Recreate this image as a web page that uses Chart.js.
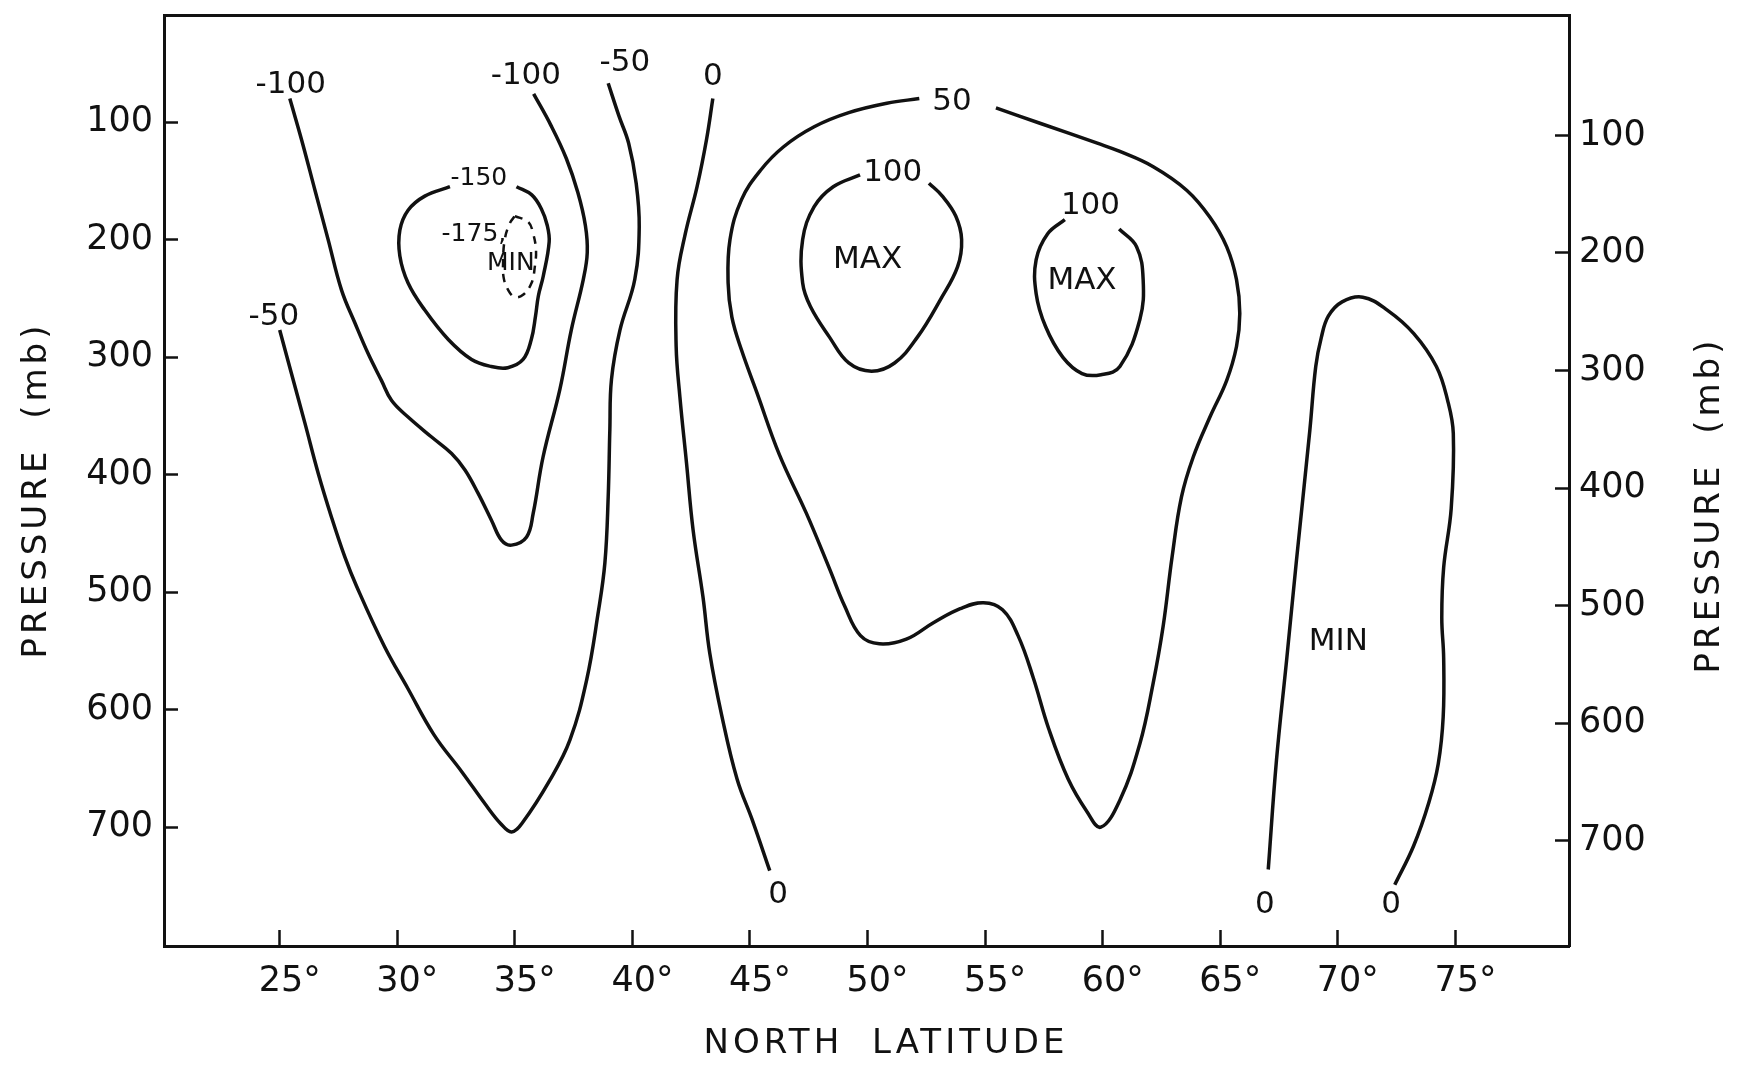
<!DOCTYPE html>
<html>
<head>
<meta charset="utf-8">
<title>Pressure / North Latitude</title>
<script src="https://cdn.jsdelivr.net/npm/chart.js@4.4.1/dist/chart.umd.min.js"></script>
<style>
  html, body { margin: 0; padding: 0; background: #fff; }
  canvas { display: block; }
</style>
</head>
<body>
<canvas id="latChart" width="1741" height="1066"></canvas>
<script>
// tick labels
const latTicks = [25, 30, 35, 40, 45, 50, 55, 60, 65, 70, 75];
const presTicks = [100, 200, 300, 400, 500, 600, 700];

// contour lines as [latitude, pressure mb]
const lineMinus100 = [
  [25.43, 80], [25.93, 115], [26.5, 158], [27.06, 200], [27.63, 243], [28.2, 271], [28.76, 297], [29.33, 320],
  [29.76, 337], [30.46, 351], [31.46, 368], [32.31, 382], [32.88, 396], [33.44, 416], [34.01, 439], [34.44, 456],
  [34.86, 460], [35.5, 453], [35.78, 433], [36.2, 385], [36.92, 327], [37.4, 277], [37.91, 234], [38.08, 211],
  [38.0, 188], [37.68, 160], [37.19, 131], [36.54, 103], [35.8, 76]
];
const lineMinus50 = [
  [25.0, 277], [25.5, 314], [26.07, 356], [26.64, 399], [27.2, 436], [27.77, 470], [28.27, 495], [29.45, 546],
  [30.45, 582], [31.55, 621], [32.75, 653], [33.8, 682], [34.4, 697], [34.86, 704], [35.33, 696], [36.49, 660],
  [37.34, 626], [38.05, 575], [38.54, 518], [38.83, 475], [38.97, 419], [39.04, 362], [39.11, 319], [39.47, 277],
  [40.1, 234], [40.29, 189], [40.16, 152], [39.84, 118], [39.43, 95], [38.97, 67]
];
const lineMinus150 = [
  [32.24, 155], [31.17, 163], [30.46, 175], [30.11, 192], [30.11, 214], [30.46, 237], [31.17, 260], [32.17, 285],
  [33.16, 302], [34.0, 308], [34.7, 309], [35.35, 302], [35.7, 285], [35.88, 265], [36.0, 248], [36.21, 231],
  [36.46, 202], [36.38, 188], [36.13, 174], [35.72, 162], [35.07, 155]
];
const lineMinus175 = [
  [35.0, 180], [35.57, 185], [35.78, 195], [35.9, 209], [35.85, 223], [35.71, 237], [35.35, 247], [35.0, 249],
  [34.72, 243], [34.53, 233], [34.5, 220], [34.57, 200], [34.79, 186], [35.0, 180]
];
const lineZeroWest = [
  [43.42, 80], [43.15, 115], [42.75, 155], [42.25, 195], [41.9, 234], [41.86, 291], [42.02, 334], [42.3, 390],
  [42.58, 447], [43.0, 504], [43.29, 552], [43.8, 605], [44.45, 659], [45.1, 694], [45.84, 737]
];
const line50 = [
  [52.2, 80], [50.82, 84], [49.2, 92], [47.73, 104], [46.43, 121], [45.45, 141], [44.64, 166], [44.15, 200],
  [44.07, 237], [44.23, 266], [44.64, 294], [45.29, 330], [46.25, 383], [47.4, 433], [48.38, 480], [49.03, 512],
  [49.7, 537], [50.5, 544], [51.65, 540], [52.8, 526], [53.94, 514], [54.93, 509], [55.74, 515], [56.4, 537],
  [57.05, 573], [57.7, 616], [58.53, 659], [59.34, 687], [59.92, 700], [60.73, 677], [61.58, 629],
  [62.14, 578], [62.57, 529], [62.95, 470], [63.35, 419], [63.85, 385], [64.56, 351], [65.27, 320], [65.69, 291],
  [65.83, 263], [65.69, 234], [65.27, 206], [64.56, 181], [63.57, 158], [62.15, 138], [60.73, 125], [59.77, 118],
  [57.33, 101], [55.46, 88]
];
const line100West = [
  [49.68, 145], [48.54, 155], [47.73, 172], [47.24, 200], [47.24, 237], [47.57, 257], [48.38, 283], [49.2, 305],
  [50.17, 312], [51.15, 305], [52.12, 283], [53.1, 251], [53.83, 223], [54.0, 200], [53.75, 180], [53.18, 163],
  [52.61, 152]
];
const line100East = [
  [58.39, 183], [57.66, 195], [57.17, 217], [57.17, 246], [57.57, 274], [58.3, 300], [59.12, 314], [59.93, 315],
  [60.73, 308], [61.58, 268], [61.72, 234], [61.44, 206], [60.7, 191]
];
const lineZeroEast = [
  [67.04, 736], [67.39, 643], [67.82, 558], [68.24, 473], [68.81, 362], [69.06, 308], [69.3, 283], [69.6, 265],
  [70.18, 253], [71.06, 249], [72.1, 260], [73.23, 280], [74.19, 308], [74.67, 337], [74.91, 365], [74.82, 429],
  [74.5, 479], [74.42, 522], [74.5, 556], [74.48, 606], [74.27, 646], [73.87, 679], [73.22, 716], [72.42, 749]
];

// contour labels
const labelText = ['-100', '-100', '-50', '-50', '0', '-150', '-175,', 'MIN', '50', '100', '100',
  'MAX', 'MAX', '0', '0', '0', 'MIN'];
const labelLat = [25.47, 35.47, 24.75, 39.68, 43.42, 33.47, 33.26, 34.83, 53.59, 51.07, 59.48,
  50.0, 59.12, 46.2, 66.9, 72.26, 70.02];
const labelPres = [68, 61, 266, 50, 62, 148, 196, 220, 83, 143, 171,
  217, 235, 758, 766, 766, 542];

const ink = '#111';
const letterFont = '"DejaVu Sans", sans-serif';
const smallLabels = ['-150', '-175,', 'MIN'];

function toPoints(line) {
  return line.map(p => ({ x: p[0], y: p[1] }));
}

const solidLines = [lineMinus100, lineMinus50, lineMinus150, lineZeroWest, line50, line100West, line100East, lineZeroEast];

const datasets = solidLines.map(line => ({
  data: toPoints(line),
  showLine: true,
  borderColor: ink,
  borderWidth: 3.5,
  pointRadius: 0,
  tension: 0.4,
  fill: false
}));
datasets.push({
  data: toPoints(lineMinus175),
  showLine: true,
  borderColor: ink,
  borderWidth: 2.5,
  borderDash: [8, 7],
  pointRadius: 0,
  tension: 0.4,
  fill: false
});

const contourLabels = {
  id: 'contourLabels',
  afterDatasetsDraw(chart) {
    const ctx = chart.ctx;
    const x = chart.scales.x, y = chart.scales.y;
    ctx.save();
    ctx.fillStyle = ink;
    ctx.textAlign = 'center';
    ctx.textBaseline = 'middle';
    labelText.forEach((t, i) => {
      const small = smallLabels.includes(t) && labelLat[i] < 40;
      ctx.font = (small ? 25 : 31) + 'px ' + letterFont;
      ctx.fillText(t, x.getPixelForValue(labelLat[i]), y.getPixelForValue(labelPres[i]));
    });
    ctx.restore();
  }
};

const axisTitles = {
  id: 'axisTitles',
  afterDraw(chart) {
    const ctx = chart.ctx;
    const area = chart.chartArea;
    const put = (text, cx, cy, rotate) => {
      ctx.save();
      ctx.fillStyle = ink;
      ctx.font = '34px ' + letterFont;
      ctx.textAlign = 'center';
      ctx.textBaseline = 'middle';
      ctx.letterSpacing = '4px';
      ctx.wordSpacing = '14px';
      ctx.translate(cx, cy);
      if (rotate) ctx.rotate(-Math.PI / 2);
      ctx.fillText(text, 0, 0);
      ctx.restore();
    };
    put('NORTH LATITUDE', area.left + 722, area.bottom + 98, false);
    put('PRESSURE (mb)', 37, area.top + 475, true);
    put('PRESSURE (mb)', area.right + 141, area.top + 490, true);
  }
};

const tickFont = { family: letterFont, size: 35 };
const noVerticalPad = s => { s.paddingTop = 0; s.paddingBottom = 0; };

new Chart(document.getElementById('latChart'), {
  type: 'scatter',
  data: { datasets: datasets },
  options: {
    responsive: false,
    animation: false,
    devicePixelRatio: 1,
    layout: { padding: { top: 15, left: 0, right: 0, bottom: 0 } },
    plugins: {
      legend: { display: false },
      tooltip: { enabled: false }
    },
    scales: {
      x: {
        type: 'linear',
        position: 'bottom',
        min: 20.08,
        max: 79.83,
        afterBuildTicks: s => { s.ticks = latTicks.map(v => ({ value: v })); },
        afterFit: s => { s.height = 120; s.paddingLeft = 0; s.paddingRight = 0; },
        grid: { drawOnChartArea: false, tickLength: -16, tickWidth: 2.5, tickColor: ink },
        border: { color: ink, width: 3 },
        ticks: {
          callback: v => v + '°',
          font: tickFont,
          color: ink,
          padding: 31,
          labelOffset: 10,
          maxRotation: 0,
          autoSkip: false
        }
      },
      xTop: {
        type: 'linear',
        position: 'top',
        min: 20.08,
        max: 79.83,
        afterFit: s => { s.height = 0; s.paddingLeft = 0; s.paddingRight = 0; },
        grid: { display: false },
        border: { color: ink, width: 3 },
        ticks: { display: false }
      },
      y: {
        type: 'linear',
        position: 'left',
        reverse: true,
        min: 8.9,
        max: 801.1,
        afterBuildTicks: s => { s.ticks = presTicks.map(v => ({ value: v })); },
        afterFit: s => { s.width = 164; noVerticalPad(s); },
        grid: { drawOnChartArea: false, tickLength: -14, tickWidth: 2.5, tickColor: ink },
        border: { color: ink, width: 3 },
        ticks: { font: tickFont, color: ink, padding: 25, autoSkip: false }
      },
      yRight: {
        type: 'linear',
        position: 'right',
        reverse: true,
        min: -2.5,
        max: 789.7,
        afterBuildTicks: s => { s.ticks = presTicks.map(v => ({ value: v })); },
        afterFit: s => { s.width = 172; noVerticalPad(s); },
        grid: { drawOnChartArea: false, tickLength: -14, tickWidth: 2.5, tickColor: ink },
        border: { color: ink, width: 3 },
        ticks: { font: tickFont, color: ink, padding: 24, autoSkip: false }
      }
    }
  },
  plugins: [contourLabels, axisTitles]
});
</script>
</body>
</html>
